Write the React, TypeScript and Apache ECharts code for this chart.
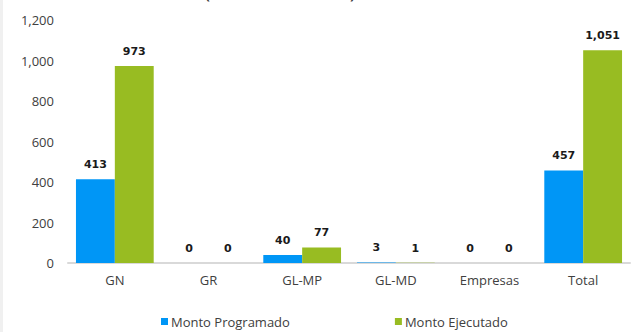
import React, { useEffect, useRef } from "react";
import * as echarts from "echarts";

const categories = ["GN", "GR", "GL-MP", "GL-MD", "Empresas", "Total"];
const programado = [413, 0, 40, 3, 0, 457];
const ejecutado = [973, 0, 77, 1, 0, 1051];
const seriesNames = ["Monto Programado", "Monto Ejecutado"];
const titleText = "(En millones de soles)";

const fmt = (v: number) => v.toLocaleString("en-US");

export default function App() {
  const ref = useRef<HTMLDivElement>(null);
  useEffect(() => {
    if (!ref.current) return;
    const chart = echarts.init(ref.current, undefined, { renderer: "svg" });
    const labelStyle = {
      show: true,
      position: "top" as const,
      distance: 9,
      fontFamily: "DejaVu Sans",
      fontWeight: "bold" as const,
      fontSize: 11,
      color: "#1a1a1a",
      formatter: (p: any) => fmt(p.value),
    };
    chart.setOption({
      animation: false,
      backgroundColor: "#ffffff",
      textStyle: { fontFamily: "Open Sans" },
      graphic: [
        {
          type: "rect",
          left: 0,
          top: 0,
          shape: { width: 3, height: 332 },
          style: { fill: "#f0f0f0" },
          silent: true,
        },
        {
          type: "text",
          x: 280,
          y: 0,
          style: {
            text: titleText,
            fontFamily: "Open Sans",
            fontWeight: "bold",
            fontSize: 14,
            fill: "#404040",
            textAlign: "center",
            textVerticalAlign: "bottom",
          },
          silent: true,
        },
      ],
      grid: { left: 68, right: 5, top: 20, bottom: 69, containLabel: false },
      legend: {
        left: 161,
        top: 315,
        padding: 0,
        itemWidth: 7,
        itemHeight: 7,
        itemGap: 105,
        icon: "rect",
        textStyle: { color: "#404040", fontSize: 13, fontFamily: "Open Sans", padding: [0, 0, 0, -2] },
        data: seriesNames,
      },
      xAxis: {
        type: "category",
        data: categories,
        axisLine: { lineStyle: { color: "#d9d9d9", width: 2 } },
        axisTick: { show: false },
        axisLabel: { color: "#404040", fontSize: 13, margin: 10 },
      },
      yAxis: {
        type: "value",
        min: 0,
        max: 1200,
        interval: 200,
        splitLine: { show: false },
        axisLine: { show: false },
        axisTick: { show: false },
        axisLabel: { color: "#404040", fontSize: 13, margin: 14, formatter: (v: number) => fmt(v) },
      },
      series: [
        {
          name: seriesNames[0],
          type: "bar",
          data: programado,
          itemStyle: { color: "#0096f6" },
          barGap: "0%",
          barCategoryGap: "17%",
          label: labelStyle,
        },
        {
          name: seriesNames[1],
          type: "bar",
          data: ejecutado,
          itemStyle: { color: "#98bc22" },
          barGap: "0%",
          barCategoryGap: "17%",
          label: labelStyle,
        },
      ],
    });
    return () => chart.dispose();
  }, []);
  return (
    <div
      ref={ref}
      style={{ position: "fixed", left: 0, top: 0, width: 635, height: 332 }}
    />
  );
}
